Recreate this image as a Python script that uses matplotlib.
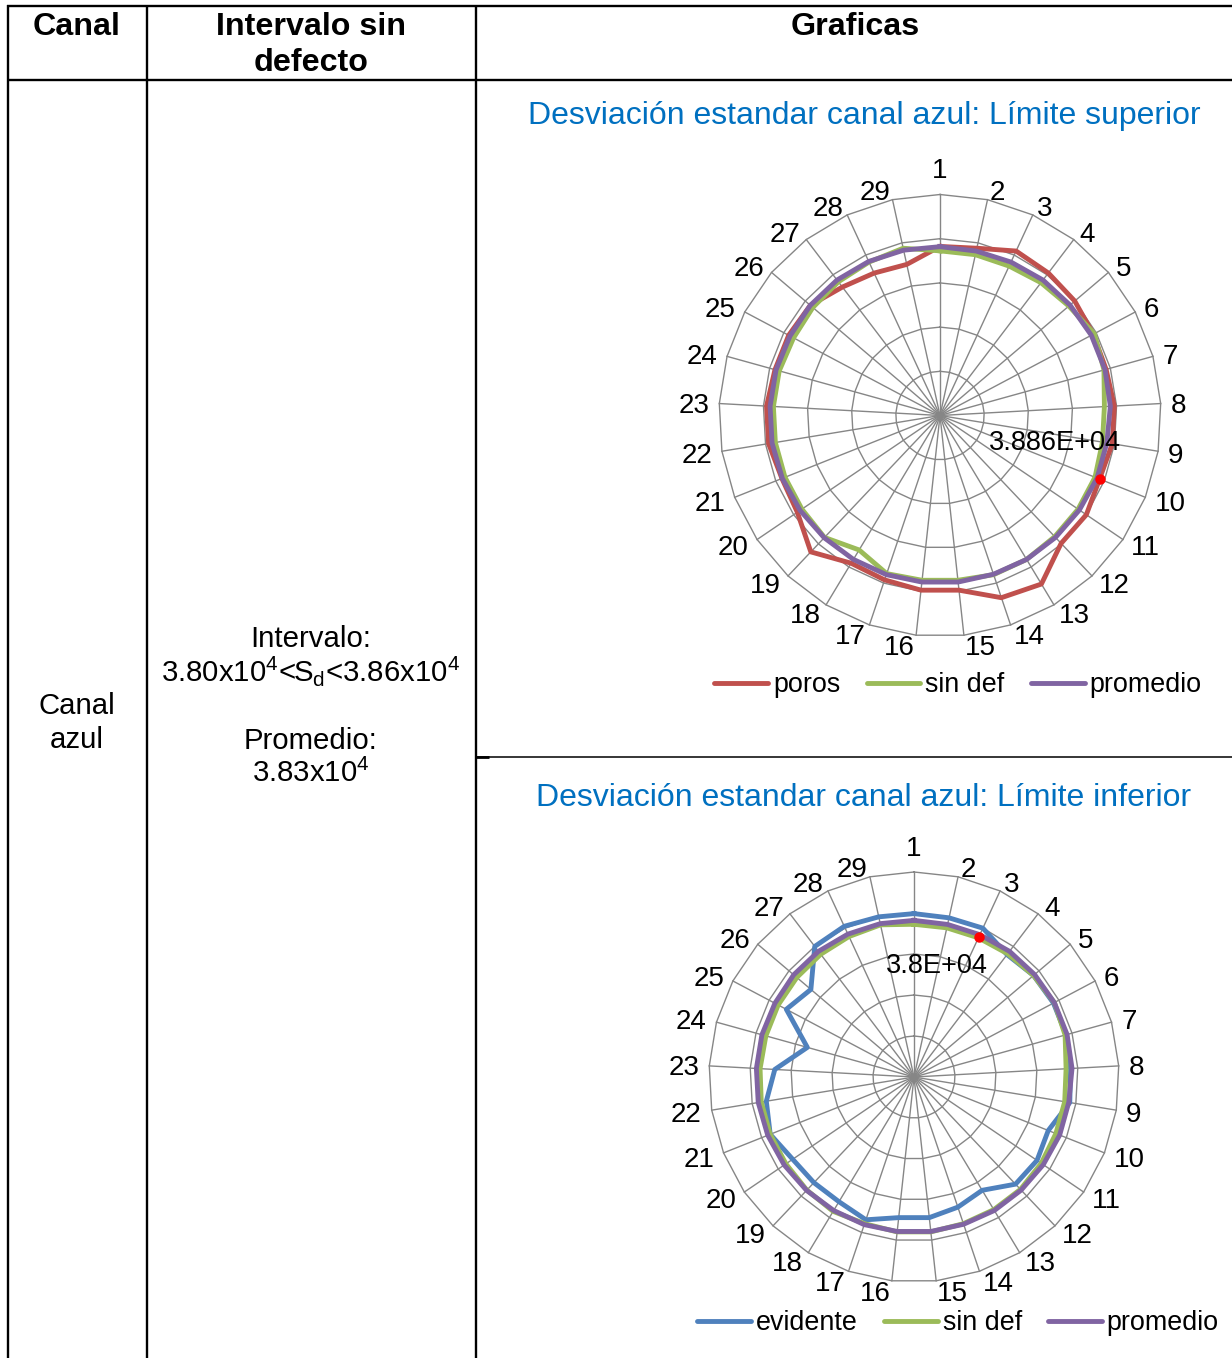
import numpy as np
import matplotlib.pyplot as plt
from matplotlib.lines import Line2D

plt.rcParams['font.family'] = ['Liberation Sans', 'DejaVu Sans']
plt.rcParams['mathtext.fontset'] = 'custom'
plt.rcParams['mathtext.rm'] = 'Liberation Sans'
plt.rcParams['mathtext.it'] = 'Liberation Sans'
plt.rcParams['mathtext.bf'] = 'Liberation Sans:bold'

# categories (29 points around the radar)
categorias = [str(i) for i in range(1, 30)]

# Limite superior
poros = [38250, 38750, 41000, 40500, 40000, 39250, 39000, 39500, 39500, 38860,
         40000, 39850, 44500, 43500, 39750, 39750, 39250, 39000, 42500, 39000,
         38500, 39300, 39300, 38750, 38750, 38500, 36500, 35500, 35000]
sin_def_sup = [37250, 37250, 37250, 37750, 38250, 39500, 38500, 37250, 37250, 37750,
               37750, 37750, 38000, 38000, 37500, 37500, 37750, 35500, 38000, 37750,
               37750, 37750, 37750, 37750, 37500, 37750, 38000, 38250, 38750]
promedio = [38200, 38100, 38250, 38500, 38600, 38750, 38750, 38600, 38250, 38250,
            38100, 38000, 38000, 37900, 37900, 37900, 38000, 38000, 38100, 38250,
            38400, 38500, 38500, 38500, 38400, 38500, 38500, 38400, 38300]

# Limite inferior
evidente = [39850, 39750, 40000, 37500, 38250, 38500, 38500, 38250, 38500, 35250,
            36250, 36000, 32250, 33500, 34500, 34500, 36750, 35500, 35500, 35750,
            37750, 36500, 34000, 27000, 35250, 33000, 40000, 40500, 40000]
sin_def_inf = [37250, 37250, 37400, 37750, 38250, 38750, 38250, 37150, 37250, 37250,
               37500, 37750, 37750, 37750, 38000, 38000, 37750, 38250, 38000, 37750,
               37750, 37750, 37600, 37500, 37500, 37500, 37600, 37750, 38000]

# labelled points
etiqueta_sup = (poros, 9)      # series, category index
etiqueta_inf = (37600, 2)      # value, category index

ROJO, VERDE, MORADO, AZUL = '#C0504D', '#9BBB59', '#8064A2', '#4F81BD'
GRIS = '#868686'
TITULO = '#0070C0'

W, H = 1232, 1358
fig = plt.figure(figsize=(W / 100, H / 100), dpi=100)

# table background (pixel coordinates)
bg = fig.add_axes([0, 0, 1, 1])
bg.set_xlim(0, W)
bg.set_ylim(H, 0)
bg.axis('off')
lw_t = 1.7
for y in (6, 80):
    bg.plot([7, W], [y, y], color='black', lw=lw_t, solid_capstyle='butt')
for x in (8, 147, 476):
    bg.plot([x, x], [5, H], color='black', lw=lw_t, solid_capstyle='butt')
bg.plot([476, W], [756.5, 756.5], color='black', lw=1.1, solid_capstyle='butt')
bg.plot([476, 489], [756.5, 756.5], color='black', lw=2.0, solid_capstyle='butt')

hdr = dict(fontsize=23.2, fontweight='bold', ha='center', va='center')
bg.text(77, 27, 'Canal', **hdr)
bg.text(311, 27, 'Intervalo sin', **hdr)
bg.text(311, 63, 'defecto', **hdr)
bg.text(855, 27, 'Graficas', **hdr)

body = dict(fontsize=21.2, ha='center', va='center')
bg.text(77, 706, 'Canal', **body)
bg.text(77, 740, 'azul', **body)
bg.text(311, 639, 'Intervalo:', **body)
bg.text(311, 671, r'3.80x10$^{4}$<S$_{\mathrm{d}}$<3.86x10$^{4}$', **body)
bg.text(311, 741, 'Promedio:', **body)
bg.text(311, 773, r'3.83x10$^{4}$', **body)

bg.text(864, 116, 'Desviación estandar canal azul: Límite superior',
        color=TITULO, fontsize=23, ha='center', va='center')
bg.text(864, 798, 'Desviación estandar canal azul: Límite inferior',
        color=TITULO, fontsize=23, ha='center', va='center')


def radar(cx, cy, r, series, rmax=50000, step=10000):
    ax = fig.add_axes([(cx - r) / W, 1 - (cy + r) / H, 2 * r / W, 2 * r / H],
                      projection='polar')
    ax.set_theta_zero_location('N')
    ax.set_theta_direction(-1)
    ax.set_ylim(0, rmax)
    ax.grid(False)
    ax.spines['polar'].set_visible(False)
    ax.set_xticks([])
    ax.set_yticks([])
    ax.patch.set_visible(False)
    n = len(categorias)
    ang = np.linspace(0, 2 * np.pi, n, endpoint=False)
    angc = np.append(ang, ang[0])
    for v in np.arange(step, rmax + 1, step):
        ax.plot(angc, [v] * (n + 1), color=GRIS, lw=1.0, zorder=1, clip_on=False)
    for a in ang:
        ax.plot([a, a], [0, rmax], color=GRIS, lw=1.0, zorder=1, clip_on=False)
    # category labels: corner of the text box next to the spoke end (Excel style)
    g = 7.2
    for a, lab in zip(ang, categorias):
        ux, uy = np.sin(a), np.cos(a)
        if abs(ux) < 1e-6:
            ax.annotate(lab, xy=(a, rmax), xytext=(0, g), textcoords='offset points',
                        ha='center', va='bottom', fontsize=20, annotation_clip=False)
        else:
            ax.annotate(lab, xy=(a, rmax), xytext=(g * ux, g * uy),
                        textcoords='offset points', ha='left' if ux > 0 else 'right',
                        va='center_baseline', fontsize=20, annotation_clip=False)
    handles = []
    for vals, color, name in series:
        ax.plot(angc, list(vals) + [vals[0]], color=color, lw=3.5,
                label=name, zorder=3, clip_on=False)
        handles.append(Line2D([], [], color=color, lw=3.5, solid_capstyle='round',
                              label=name))
    return ax, ang, handles


def leyenda(ax, handles, cy):
    ax.legend(handles=handles, loc='center', bbox_to_anchor=(958 / W, 1 - cy / H),
              bbox_transform=fig.transFigure, ncol=3, frameon=False, fontsize=19.4,
              handlelength=2.0, handletextpad=0.18, columnspacing=0.97,
              borderpad=0, borderaxespad=0)


# Limite superior
ax1, ang, h1 = radar(940, 415.5, 221, [(poros, ROJO, 'poros'),
                                       (sin_def_sup, VERDE, 'sin def'),
                                       (promedio, MORADO, 'promedio')])
vals, i = etiqueta_sup
ax1.plot(ang[i], vals[i], 'o', color='red', ms=6.5, zorder=5, clip_on=False)
ax1.annotate(f'{vals[i]:.3E}', xy=(ang[i], vals[i]),
             xytext=(-32, 28), textcoords='offset points', ha='center',
             va='center_baseline', fontsize=19.5, annotation_clip=False)
leyenda(ax1, h1, 685)

# Limite inferior
ax2, ang, h2 = radar(914, 1077, 205, [(evidente, AZUL, 'evidente'),
                                      (sin_def_inf, VERDE, 'sin def'),
                                      (promedio, MORADO, 'promedio')])
v2, i2 = etiqueta_inf
ax2.plot(ang[i2], v2, 'o', color='red', ms=6.5, zorder=5, clip_on=False)
ax2.annotate(f'{v2:.1E}', xy=(ang[i2], v2), xytext=(-30, -19),
             textcoords='offset points', ha='center', va='center_baseline',
             fontsize=19.5, annotation_clip=False)
leyenda(ax2, h2, 1323)

fig.savefig('out.png', dpi=100)
